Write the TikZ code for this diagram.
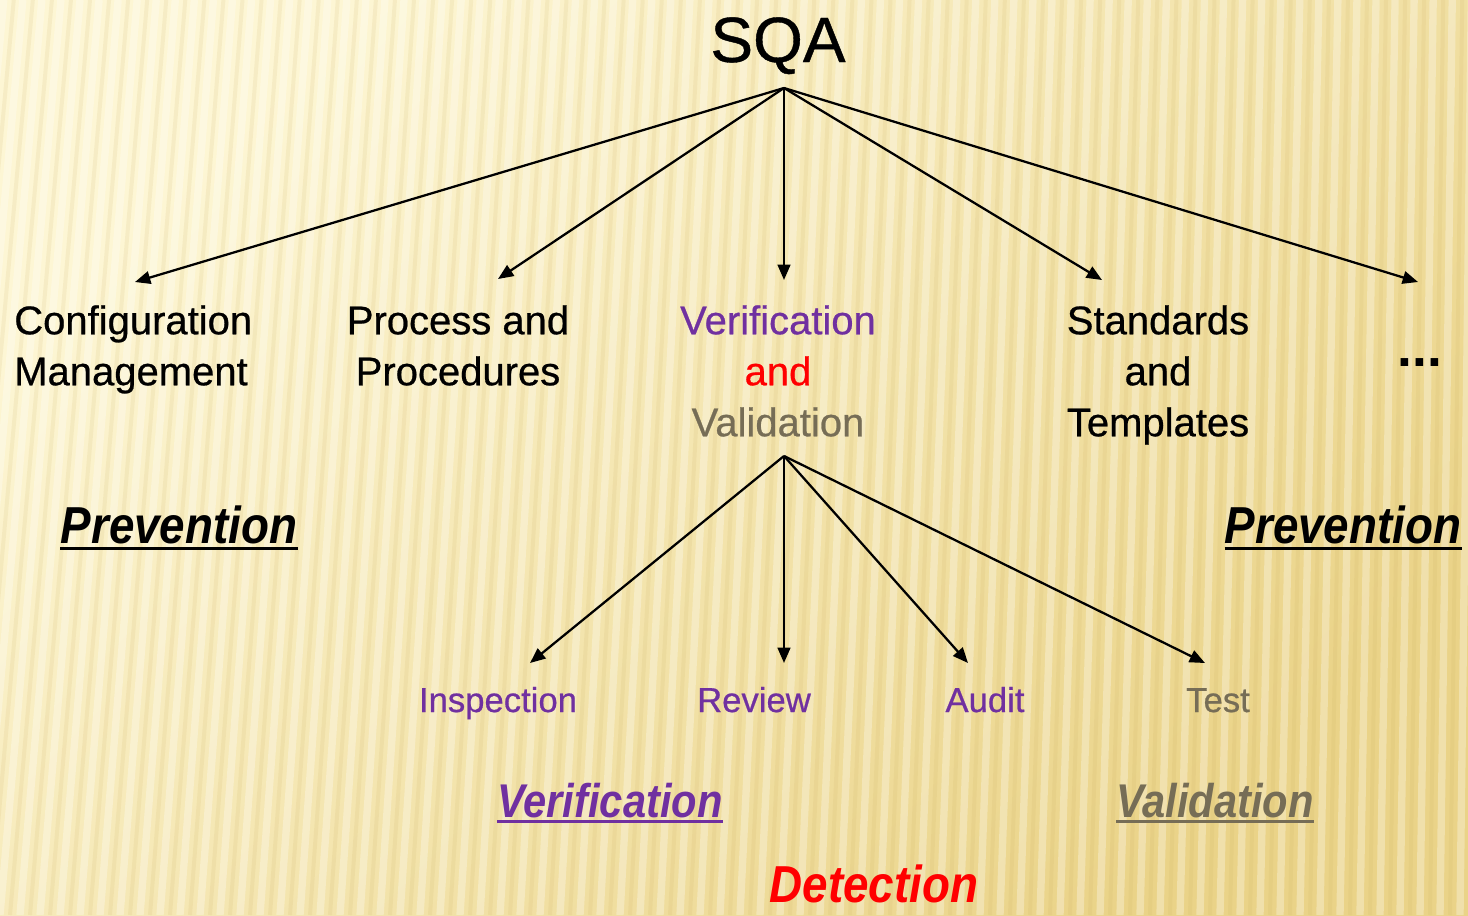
\documentclass[tikz,border=0pt]{standalone}
\usepackage{fontspec}
\usepackage{graphicx}
\setmainfont{Liberation Sans}
\newfontfamily\heavyfont[FakeBold=0.6]{Liberation Sans}
\usetikzlibrary{arrows.meta}
\definecolor{vpurple}{RGB}{112,48,160}
\definecolor{vgray}{RGB}{118,109,86}
\definecolor{bgA}{RGB}{253,246,212}
\definecolor{bgB}{RGB}{234,211,136}
\definecolor{stripe}{RGB}{200,170,90}
\begin{document}
\begin{tikzpicture}[x=0.75pt,y=-0.75pt,
  arr/.style={line width=1.7pt,-{Triangle[length=11.5pt,width=9.5pt]}},
  toplbl/.style={inner sep=0pt,font=\heavyfont\fontsize{30}{38.25}\selectfont,align=center},
  sublbl/.style={inner sep=0pt,font=\heavyfont\fontsize{26}{30}\selectfont},
  emphlbl/.style={inner sep=0pt,font=\fontsize{39}{44}\selectfont\bfseries\itshape},
  emphsm/.style={inner sep=0pt,font=\fontsize{35.5}{40}\selectfont\bfseries\itshape},
  ul/.style={line width=2.2pt}]
\useasboundingbox (0,0) rectangle (1468,915);
\clip (0,0) rectangle (1468,915);
% background
\shade[top color=bgA, bottom color=bgB, shading angle=45] (0,0) rectangle (1468,915);
\foreach \i in {0,...,85}{
  \pgfmathsetmacro{\bx}{\i*20-120}
  \pgfmathsetmacro{\tx}{\bx+80*(1-\bx/1700)}
  \draw[white, opacity=0.30, line width=5.5pt] (\tx,0) -- (\bx,915);
  \draw[stripe, opacity=0.12, line width=3pt] (\tx+10,0) -- (\bx+10,915);
}
% root
\node[inner sep=0pt,font=\heavyfont\fontsize{48}{52}\selectfont,anchor=base] (sqa) at (778,62) {SQA};
\coordinate (sqaout) at (784,88);
% first level
\node[toplbl,anchor=north west,align=left] (cm) at (14,305) {Configuration\\Management};
\node[toplbl,anchor=north] (pp) at (458,305) {Process and\\Procedures};
\node[toplbl,anchor=north] (vv) at (778,305) {\color{vpurple}Verification\\\color{red}and\\\color{vgray}Validation};
\node[toplbl,anchor=north] (st) at (1158,305) {Standards\\and\\Templates};
\node[inner sep=0pt,font=\fontsize{40}{44}\selectfont\bfseries,anchor=base] (more) at (1420,366) {...};
\coordinate (cmin) at (135,282);
\coordinate (ppin) at (498,279);
\coordinate (vvin) at (784,280);
\coordinate (stin) at (1102,280);
\coordinate (morein) at (1418,282);
\draw[arr] (sqaout) -- (cmin);
\draw[arr] (sqaout) -- (ppin);
\draw[arr] (sqaout) -- (vvin);
\draw[arr] (sqaout) -- (stin);
\draw[arr] (sqaout) -- (morein);
% prevention labels
\node[emphlbl,anchor=base] (prevl) at (179,543) {\scalebox{0.88}[1]{Prevention}};
\node[emphlbl,anchor=base] (prevr) at (1343,543) {\scalebox{0.88}[1]{Prevention}};
\draw[ul] ([yshift=-4pt]prevl.base west) -- ([yshift=-4pt]prevl.base east);
\draw[ul] ([yshift=-4pt]prevr.base west) -- ([yshift=-4pt]prevr.base east);
% second level
\coordinate (vvout) at (784,456);
\node[sublbl,anchor=base,text=vpurple] (insp) at (498,712) {Inspection};
\node[sublbl,anchor=base,text=vpurple] (rev) at (754,712) {Review};
\node[sublbl,anchor=base,text=vpurple] (aud) at (985,712) {Audit};
\node[sublbl,anchor=base,text=vgray] (tst) at (1218,712) {Test};
\coordinate (inspin) at (530,663);
\coordinate (revin) at (784,663);
\coordinate (audin) at (968,663);
\coordinate (tstin) at (1205,663);
\draw[arr] (vvout) -- (inspin);
\draw[arr] (vvout) -- (revin);
\draw[arr] (vvout) -- (audin);
\draw[arr] (vvout) -- (tstin);
% verification / validation
\node[emphsm,anchor=base,text=vpurple] (verif) at (610,817) {\scalebox{0.88}[1]{Verification}};
\node[emphsm,anchor=base,text=vgray] (valid) at (1215,817) {\scalebox{0.88}[1]{Validation}};
\draw[ul,vpurple] ([yshift=-3.5pt]verif.base west) -- ([yshift=-3.5pt]verif.base east);
\draw[ul,vgray] ([yshift=-3.5pt]valid.base west) -- ([yshift=-3.5pt]valid.base east);
% detection
\node[emphlbl,anchor=base,text=red] (det) at (874,902) {\scalebox{0.88}[1]{Detection}};
\end{tikzpicture}
\end{document}
